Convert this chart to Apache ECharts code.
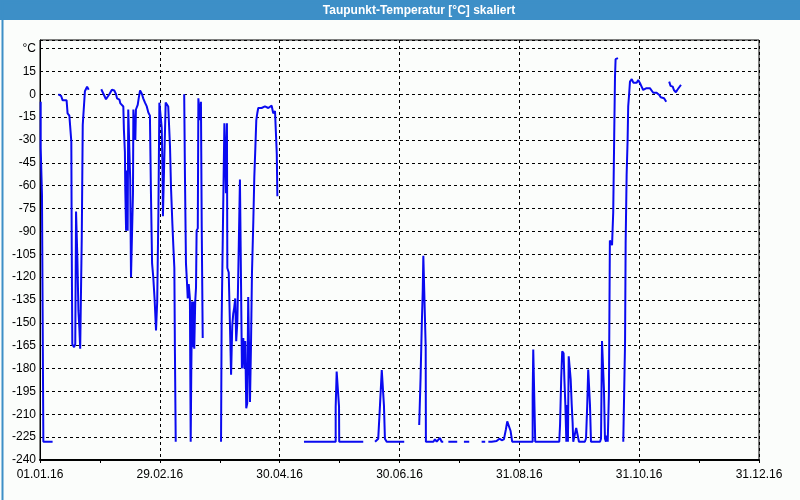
<!DOCTYPE html>
<html>
<head>
<meta charset="utf-8">
<script src="https://cdn.jsdelivr.net/npm/echarts@6/dist/echarts.min.js"></script>
<style>
html,body{margin:0;padding:0;background:#fbfdfb;}
#chart{width:800px;height:500px;}
</style>
</head>
<body>
<div id="chart"></div>
<script>
// Title
var chartTitle = 'Taupunkt-Temperatur [°C] skaliert';
// X tick labels (6 equal intervals across the year 2016)
var xTickLabels = ['01.01.16','29.02.16','30.04.16','30.06.16','31.08.16','31.10.16','31.12.16'];
// Y ticks: -240 ... 30 step 15, top label replaced by unit
var yUnitLabel = '°C';
// Day of year (0 = 01.01.16) and dew point temperature; null = gap
var days = [
0.35,0.35,1.0,1.0,1.7,1.7,6.4,6.6,
9.3,10.7,11.5,12.3,13.5,14.0,14.9,15.6,15.9,16.1,16.4,17.3,17.9,18.3,18.8,19.0,19.5,20.0,20.4,20.7,21.2,21.7,22.2,22.8,23.9,24.7,25,
31.1,32.3,33.5,34.2,35.2,36.5,37.7,38.6,39.1,40.3,40.8,41.6,42.3,42.6,43.1,43.3,43.7,44.0,44.5,44.8,45.3,45.8,46.2,46.9,47.2,47.4,48.1,48.4,48.7,49.6,50.1,50.8,51.8,52.4,53.3,54.2,55.0,55.8,56.3,56.9,57.5,58.2,58.9,59.5,60.1,60.6,61.3,61.8,62.2,62.4,62.9,63.8,64.3,65.1,66.0,66.5,67.2,67.7,68.2,68.5,68.9,69.2,
73.2,73.6,74.1,74.6,75.0,75.5,76.1,76.5,76.8,77.2,77.5,78.0,78.3,78.8,79.2,79.5,80.1,80.4,80.9,81.2,81.7,82.1,82.6,83,
91.9,92.2,93.0,93.6,94.1,94.4,94.9,95.1,95.8,96.4,97.0,97.6,98.1,98.6,99.1,99.6,100.2,100.9,101.5,102.0,102.5,103.2,103.7,104.2,104.7,105.2,105.7,106.2,106.6,107.1,107.6,108.3,108.8,109.3,109.8,110.3,110.8,112.5,114.2,115.9,117.6,118.4,119.3,119.8,120.2,120.5,120.5,121,
134.0,150.1,150.1,150.6,151.4,151.8,151.9,164.1,165,
170.1,171.7,172.6,173.5,174.3,174.6,175.1,176.0,184.9,186,
192.5,193.2,193.8,194.3,194.6,195.3,195.8,195.9,199.7,200.5,201.4,203.0,203.9,204.7,205.5,
207.3,211.8,213,
215.2,217.9,219,
224.2,226.0,227,
227.6,228.4,229.3,231.8,233.2,234.4,235.5,236.5,237.2,238.1,238.9,239.7,250.1,250.1,250.4,251.1,251.4,263.6,264.0,264.6,265.1,265.8,266.2,266.7,267.2,267.7,268.0,268.4,269.0,269.4,269.9,270.4,270.7,271.7,272.2,273.1,273.6,276.6,277.2,277.8,278.3,278.8,279.2,279.7,284.3,284.8,285.3,285.9,286.3,286.8,287.3,287.7,288.2,288.5,288.8,289.3,289.8,290.4,290.7,291.0,291.5,291.9,292.2,293.4,294,
296.1,296.6,297.0,297.3,297.8,298.3,298.6,299.1,299.5,300.4,301.2,302.9,303.7,304.6,305.4,306.2,307.1,307.9,308.8,309.6,310.5,311.3,312.2,313.0,313.9,314.4,315.1,315.9,316.8,317.3,317.9,318.5,
319.4,320.1,321.2,321.8,322.8,323.5,324.5,325.4
];
var temps = [
-5,-35,-35,-66,-66,-228,-228,null,
0,-1,-4,-5,-4,-12.5,-14,-15,-31,-98,-164,-166,-164,-77,-77,-109,-142,-154,-167,-168,-94,-20,-10,2,5,3,null,
3.3,0,-3.3,-2.5,0,3,2.5,0,-2.7,-3.5,-6,-7,-8,-23.5,-38,-63,-89.5,-50,-89.5,-10,-10,-56.5,-120,-120,-65,-10,-10,-30,-10,-7,-2.7,2.5,0,-2.7,-5.5,-8,-12,-14,-63,-111,-120,-135,-155,-136,-78,-5.5,-5.5,-22,-50,-80,-80,-5.5,-6.5,-8,-34.5,-61,-85,-100,-114,-170,-228,null,
0,-55,-111,-123,-134,-124.5,-134,-228,-182,-136,-166,-136,-167,-136,-127,-89.5,-88,-2.7,-4,-17,-5,-87,-160,null,
-228,-150,-74,-19,-45,-65,-19,-114,-117,-150,-184,-152,-144,-140,-134,-162,-149,-100,-56,-118,-180,-160,-180,-162,-206,-203,-133,-133,-202,-166,-118,-83,-54,-36,-17,-12.5,-9,-9,-8,-9,-7.5,-12.5,-11,-12,-39,-39,-67,null,
-228,-228,-205,-182,-183,-205,-228,-228,null,
-228,-226,-204,-181,-182,-204,-226,-228,-228,null,
-217,-186,-152,-129,-106,-107,-166,-228,-228,-226.5,-228,-225.5,-228,-228,null,
-228,-228,null,
-228,-228,null,
-228,-228,null,
-228,-227,-228,-227.5,-226,-227,-226.5,-220,-214.7,-216,-221,-228,-228,-198,-167.5,-168,-228,-228,-217,-186,-168.6,-170,-187,-204,-228,-204,-228,-172,-173,-187,-203,-216,-228,-227,-219,-219,-228,-228,-225.7,-204,-180.6,-181,-204,-228,-228,-226,-162,-162,-194,-226,-228,-224,-228,-212.6,-197,-96,-97,-99,-88,-77.4,-26.8,11.6,23,23.7,null,
-228,-227,-163,-98,-53,-30,-8,0.6,8.3,9.9,7.6,7.6,9.4,7.2,5,2.8,2.5,4,4.2,4,3.2,1,0.2,1,0.5,-0.5,-2,-2.6,-2.6,-3.8,-4.9,null,
8.3,5.5,5,2.8,1.3,2.8,4.6,6.1
];

var HOURS_PER_DAY = 24;
var seriesData = days.map(function (d, i) { return [d * HOURS_PER_DAY, temps[i]]; });

var chart = echarts.init(document.getElementById('chart'), null, {renderer: 'canvas'});
var labelFont = {fontFamily: 'Liberation Sans', fontSize: 12, color: '#000'};
var option = {
  backgroundColor: '#fbfdfb',
  animation: false,
  grid: {left: 40, right: 41, top: 40, bottom: 40, show: true, borderColor: '#000', borderWidth: 1, backgroundColor: 'transparent'},
  xAxis: {
    type: 'value', min: 0, max: 8760, interval: 1460,
    axisLine: {show: true, onZero: false, lineStyle: {color: '#000', width: 2}},
    axisTick: {show: true, length: 3, lineStyle: {color: '#000'}},
    minorTick: {show: true, splitNumber: 2, length: 3, lineStyle: {color: '#000'}},
    axisLabel: Object.assign({margin: 9, showMinLabel: true, showMaxLabel: true,
      formatter: function (v) { var k = Math.round(v / 1460); return xTickLabels[k] || ''; }}, labelFont),
    splitLine: {show: true, lineStyle: {color: '#000', type: [3, 3], width: 1}}
  },
  yAxis: {
    type: 'value', min: -240, max: 35.6, interval: 15,
    axisLine: {show: true, lineStyle: {color: '#000', width: 1}},
    axisTick: {show: false},
    axisLabel: Object.assign({margin: 4,
      formatter: function (v) { if (Math.abs(v - 30) < 0.01) return yUnitLabel; if (v > 30) return ''; return String(v); }}, labelFont),
    splitLine: {show: true, lineStyle: {color: '#000', type: [3, 3], width: 1}}
  },
  graphic: [
    {type: 'rect', left: 0, top: 0, shape: {width: 800, height: 20}, style: {fill: '#3d8fc7'}, z: 10},
    {type: 'rect', left: 0, top: 0, shape: {width: 799, height: 499}, style: {fill: 'none', stroke: '#3d8fc7', lineWidth: 2}, z: 10},
    {type: 'text', x: 419, y: 11, z: 11, style: {text: chartTitle, fill: '#fff', font: 'bold 12px "Liberation Sans"', textAlign: 'center', textVerticalAlign: 'middle'}}
  ],
  series: [{
    type: 'line', data: seriesData, showSymbol: false, symbol: 'none', connectNulls: false,
    lineStyle: {color: '#0a0af0', width: 2}, clip: true
  }]
};
chart.setOption(option);
</script>
</body>
</html>
